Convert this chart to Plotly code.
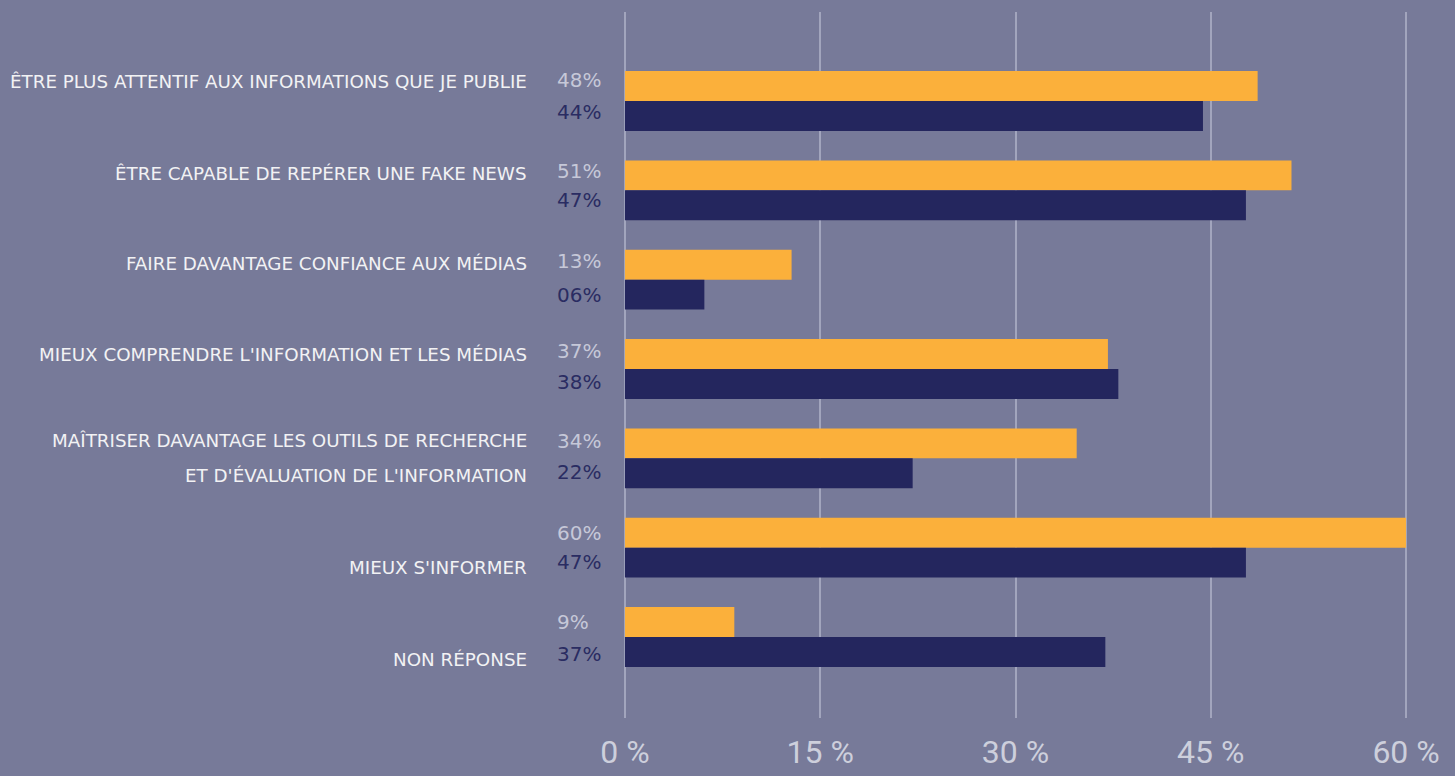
import plotly.graph_objects as go

categories = [
    "Être plus attentif aux informations que je publie",
    "Être capable de repérer une fake news",
    "Faire davantage confiance aux médias",
    "Mieux comprendre l'information et les médias",
    "Maîtriser davantage les outils de recherche<br>et d'évaluation de l'information",
    "Mieux s'informer",
    "Non réponse",
]
series_a = [48.6, 51.2, 12.8, 37.1, 34.7, 60.0, 8.4]   # orange
series_b = [44.4, 47.7, 6.1, 37.9, 22.1, 47.7, 36.9]   # navy
labels_a = ["48%", "51%", "13%", "37%", "34%", "60%", "9%"]
labels_b = ["44%", "47%", "06%", "38%", "22%", "47%", "37%"]
x_ticks = [0, 15, 30, 45, 60]
x_ticktext = ["0 %", "15 %", "30 %", "45 %", "60 %"]

BG = "#777a99"
ORANGE = "#fbb03b"
NAVY = "#24265e"
GRID = "#a2a5bd"

fig = go.Figure()
fig.add_trace(go.Bar(y=categories, x=series_a, orientation="h", marker_color=ORANGE,
                     marker_line_width=0, name="A", hoverinfo="x"))
fig.add_trace(go.Bar(y=categories, x=series_b, orientation="h", marker_color=NAVY,
                     marker_line_width=0, name="B", hoverinfo="x"))

cat_shift = [19, 17, 16, 14, 0, -20, -23]
lab_a_shift = [21, 19, 19, 18, 17, 15, 15]
lab_b_shift = [-11, -10, -15, -13, -14, -14, -17]
annotations = []
for i, cat in enumerate(categories):
    lines = cat.split("<br>")
    n = len(lines)
    for j, line in enumerate(lines):
        off = (n - 1) / 2 * 35 - j * 35
        annotations.append(dict(
            x=0, xref="x", y=i, yref="y", text=line.upper(), showarrow=False,
            xanchor="right", yanchor="middle", xshift=-96, yshift=cat_shift[i] + off,
            font=dict(family="DejaVu Sans", size=18.3, color="#f2f2f4")))
for i in range(len(categories)):
    annotations.append(dict(
        x=0, xref="x", y=i, yref="y", text=labels_a[i], showarrow=False,
        xanchor="left", yanchor="middle", xshift=-70, yshift=lab_a_shift[i],
        font=dict(family="DejaVu Sans", size=20, color="#c6c8d8")))
    annotations.append(dict(
        x=0, xref="x", y=i, yref="y", text=labels_b[i], showarrow=False,
        xanchor="left", yanchor="middle", xshift=-70, yshift=lab_b_shift[i],
        font=dict(family="DejaVu Sans", size=20, color="#2a2c62")))

fig.update_layout(
    width=1455, height=776,
    paper_bgcolor=BG, plot_bgcolor=BG,
    margin=dict(l=623, r=47, t=12, b=58),
    barmode="group", bargap=0.33, bargroupgap=0,
    showlegend=False,
    annotations=annotations,
    xaxis=dict(range=[-0.15, 60.15], tickvals=x_ticks, ticktext=x_ticktext,
               showgrid=True, gridcolor=GRID, gridwidth=1.5, zeroline=False,
               showline=False, ticks="", ticklabelstandoff=12, automargin=False,
               tickfont=dict(family="Roboto", size=32, color="#cdcfdc")),
    yaxis=dict(range=[6.907, -0.996], showticklabels=False, showgrid=False,
               zeroline=False, showline=False, ticks="", automargin=False),
)

fig.write_html("out.html")
